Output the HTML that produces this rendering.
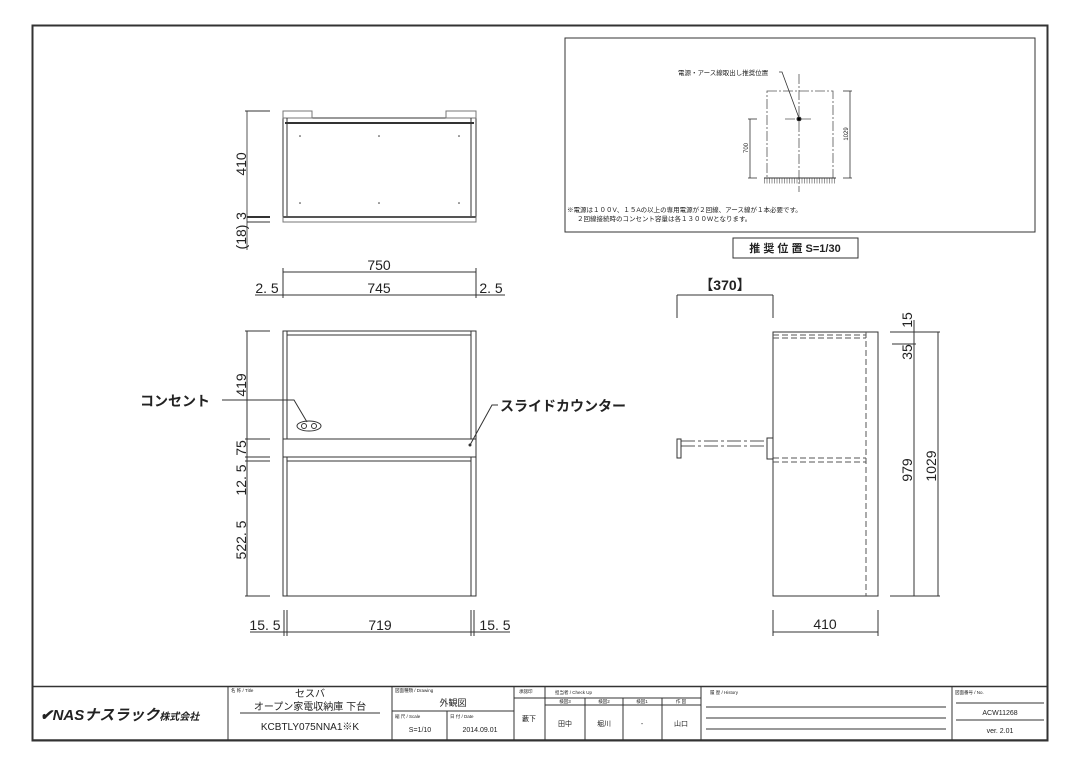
<!DOCTYPE html>
<html><head><meta charset="utf-8"><style>
html,body{margin:0;padding:0;background:#fff;}
svg{display:block;}
text{font-family:"Liberation Sans","Noto Sans CJK JP",sans-serif;fill:#222;}
.d{font-family:"Liberation Sans Narrow","Liberation Sans","Noto Sans CJK JP",sans-serif;font-size:14px;}
</style></head><body>
<svg width="1080" height="764" viewBox="0 0 1080 764" xmlns="http://www.w3.org/2000/svg">
<g fill="none" stroke="#333" stroke-width="1">
<rect x="32.5" y="25.5" width="1015" height="715" stroke-width="2"/>
<!-- top view -->
<rect x="283" y="118" width="193" height="99"/>
<rect x="283" y="111" width="29" height="7" stroke="#777"/>
<rect x="446" y="111" width="30" height="7" stroke="#777"/>
<line x1="285" y1="123" x2="474" y2="123" stroke-width="2"/>
<line x1="287" y1="118" x2="287" y2="217"/>
<line x1="471" y1="118" x2="471" y2="217"/>
<line x1="283" y1="217" x2="476" y2="217" stroke-width="2"/>
<rect x="283" y="217" width="193" height="5" stroke="#777"/>
<line x1="247" y1="111" x2="247" y2="250" stroke="#555"/>
<line x1="245" y1="111" x2="270" y2="111"/>
<line x1="247" y1="217" x2="270" y2="217" stroke-width="2"/>
<line x1="247" y1="222" x2="270" y2="222"/>
<!-- 750/745 -->
<line x1="283" y1="272" x2="476" y2="272"/>
<line x1="283" y1="268" x2="283" y2="298"/>
<line x1="476" y1="268" x2="476" y2="298"/>
<line x1="255" y1="295" x2="505" y2="295"/>
<!-- front view -->
<rect x="283" y="331" width="193" height="265"/>
<line x1="287" y1="331" x2="287" y2="596"/>
<line x1="471" y1="331" x2="471" y2="596"/>
<line x1="287" y1="335" x2="471" y2="335"/>
<rect x="283" y="439" width="193" height="18" fill="#fff"/>
<line x1="287" y1="461" x2="471" y2="461"/>
<ellipse cx="309" cy="426" rx="12" ry="5"/>
<circle cx="304" cy="426" r="2.5"/><circle cx="314" cy="426" r="2.5"/>
<polyline points="222,400 294,400 307,422"/>
<polyline points="470,445 492,405 498,405"/>
<circle cx="470" cy="445" r="1" fill="#333"/>
<line x1="247" y1="331" x2="247" y2="596"/>
<line x1="245" y1="331" x2="270" y2="331"/>
<line x1="245" y1="439" x2="270" y2="439"/>
<line x1="245" y1="457" x2="270" y2="457"/>
<line x1="245" y1="461" x2="270" y2="461"/>
<line x1="245" y1="596" x2="270" y2="596"/>
<line x1="250" y1="632" x2="510" y2="632"/>
<line x1="284" y1="610" x2="284" y2="636"/><line x1="287" y1="610" x2="287" y2="636"/>
<line x1="471" y1="610" x2="471" y2="636"/><line x1="474" y1="610" x2="474" y2="636"/>
<!-- side view -->
<rect x="773" y="332" width="105" height="264"/>
<g stroke-dasharray="6,3" stroke="#555">
<line x1="866" y1="332" x2="866" y2="596"/>
<line x1="773" y1="335" x2="866" y2="335"/>
<line x1="773" y1="338" x2="866" y2="338"/>
<line x1="773" y1="458" x2="866" y2="458"/>
<line x1="773" y1="462" x2="866" y2="462"/>
</g>
<g stroke-dasharray="14,3,3,3" stroke="#555">
<line x1="681" y1="441" x2="767" y2="441"/>
<line x1="681" y1="446" x2="767" y2="446"/>
</g>
<rect x="677" y="439" width="4" height="19"/>
<rect x="767" y="438" width="6" height="21"/>
<line x1="677" y1="295" x2="773" y2="295"/>
<line x1="677" y1="295" x2="677" y2="318"/>
<line x1="773" y1="295" x2="773" y2="318"/>
<line x1="914" y1="320" x2="914" y2="596"/>
<line x1="938" y1="332" x2="938" y2="596"/>
<line x1="890" y1="332" x2="940" y2="332"/>
<line x1="892" y1="344" x2="916" y2="344"/>
<line x1="890" y1="596" x2="940" y2="596"/>
<line x1="773" y1="632" x2="878" y2="632"/>
<line x1="773" y1="610" x2="773" y2="636"/>
<line x1="878" y1="610" x2="878" y2="636"/>
<!-- top right box -->
<rect x="565" y="38" width="470" height="194"/>
<g stroke-dasharray="10,2,2,2" stroke="#555" stroke-width="0.8">
<rect x="767" y="91" width="66" height="87"/>
<line x1="799" y1="74" x2="799" y2="192"/>
<line x1="785" y1="119" x2="813" y2="119"/>
</g>
<polyline points="779,72 782,72 799,118" stroke-width="0.8"/>
<circle cx="799" cy="119" r="2" fill="#000"/>
<line x1="764" y1="178" x2="836" y2="178"/>
<line x1="764" y1="181" x2="836" y2="181" stroke-width="5" stroke="#999" stroke-dasharray="1,1.5"/>
<line x1="750" y1="119" x2="750" y2="178" stroke-width="0.8"/>
<line x1="748" y1="119" x2="757" y2="119" stroke-width="0.8"/>
<line x1="748" y1="178" x2="757" y2="178" stroke-width="0.8"/>
<line x1="850" y1="91" x2="850" y2="178" stroke-width="0.8"/>
<line x1="843" y1="91" x2="852" y2="91" stroke-width="0.8"/>
<line x1="843" y1="178" x2="852" y2="178" stroke-width="0.8"/>
<rect x="733" y="238" width="125" height="20"/>
<!-- title block -->
<rect x="32.5" y="686.5" width="1015" height="53.5" stroke-width="1.5"/>
<line x1="228" y1="686" x2="228" y2="740"/>
<line x1="392" y1="686" x2="392" y2="740"/>
<line x1="514" y1="686" x2="514" y2="740"/>
<line x1="545" y1="686" x2="545" y2="740"/>
<line x1="701" y1="686" x2="701" y2="740"/>
<line x1="952" y1="686" x2="952" y2="740"/>
<line x1="240" y1="713" x2="380" y2="713"/>
<line x1="392" y1="711" x2="514" y2="711"/>
<line x1="447" y1="711" x2="447" y2="740"/>
<line x1="514" y1="698" x2="545" y2="698"/>
<line x1="545" y1="698" x2="701" y2="698"/>
<line x1="545" y1="705" x2="701" y2="705"/>
<line x1="585" y1="698" x2="585" y2="740"/>
<line x1="623" y1="698" x2="623" y2="740"/>
<line x1="662" y1="698" x2="662" y2="740"/>
<line x1="706" y1="707" x2="946" y2="707"/>
<line x1="706" y1="718" x2="946" y2="718"/>
<line x1="706" y1="729" x2="946" y2="729"/>
<line x1="956" y1="703" x2="1044" y2="703"/>
<line x1="956" y1="720" x2="1044" y2="720"/>
</g>
<g fill="#333">
<circle cx="300" cy="136" r="0.8"/><circle cx="379" cy="136" r="0.8"/><circle cx="459" cy="136" r="0.8"/>
<circle cx="300" cy="203" r="0.8"/><circle cx="379" cy="203" r="0.8"/><circle cx="459" cy="203" r="0.8"/>
</g>
<!-- dimension text -->
<g class="d">
<text transform="translate(246,164) rotate(-90)" text-anchor="middle">410</text>
<text transform="translate(246,216) rotate(-90)" text-anchor="middle">3</text>
<text transform="translate(246,237) rotate(-90)" text-anchor="middle">(18)</text>
<text x="379" y="270" text-anchor="middle">750</text>
<text x="379" y="293" text-anchor="middle">745</text>
<text x="267" y="293" text-anchor="middle">2. 5</text>
<text x="491" y="293" text-anchor="middle">2. 5</text>
<text transform="translate(246,385) rotate(-90)" text-anchor="middle">419</text>
<text transform="translate(246,448) rotate(-90)" text-anchor="middle">75</text>
<text transform="translate(246,480) rotate(-90)" text-anchor="middle">12. 5</text>
<text transform="translate(246,540) rotate(-90)" text-anchor="middle">522. 5</text>
<text x="265" y="630" text-anchor="middle">15. 5</text>
<text x="380" y="630" text-anchor="middle">719</text>
<text x="495" y="630" text-anchor="middle">15. 5</text>
<text x="725" y="290" text-anchor="middle" font-weight="bold">【370】</text>
<text transform="translate(912,320) rotate(-90)" text-anchor="middle">15</text>
<text transform="translate(912,352) rotate(-90)" text-anchor="middle">35</text>
<text transform="translate(912,470) rotate(-90)" text-anchor="middle">979</text>
<text transform="translate(936,466) rotate(-90)" text-anchor="middle">1029</text>
<text x="825" y="629" text-anchor="middle">410</text>
</g>
<text x="140" y="406" font-size="14" font-weight="bold">コンセント</text>
<text x="500" y="411" font-size="14" font-weight="bold">スライドカウンター</text>
<text x="678" y="75" font-size="6.5">電源・アース線取出し推奨位置</text>
<text transform="translate(748,148) rotate(-90)" font-size="6" text-anchor="middle">700</text>
<text transform="translate(848,134) rotate(-90)" font-size="6" text-anchor="middle">1029</text>
<text x="567" y="212" font-size="6.5">※電源は１００V、１５Aの以上の専用電源が２回線、アース線が１本必要です。</text>
<text x="577" y="221" font-size="6.5">２回線接続時のコンセント容量は各１３００Wとなります。</text>
<text x="795" y="252" font-size="11" text-anchor="middle" font-weight="bold">推 奨 位 置  S=1/30</text>
<!-- title block text -->
<text x="40" y="720" font-size="15" font-weight="bold" font-style="italic" fill="#111">✔NASナスラック<tspan font-size="10">株式会社</tspan></text>
<text x="231" y="692" font-size="4.5">名 称 / Title</text>
<text x="310" y="697" font-size="10" text-anchor="middle">セスバ</text>
<text x="310" y="710" font-size="10" text-anchor="middle">オープン家電収納庫 下台</text>
<text x="310" y="730" font-size="10" text-anchor="middle">KCBTLY075NNA1※K</text>
<text x="395" y="692" font-size="4.5">図面種類 / Drawing</text>
<text x="453" y="706" font-size="9" text-anchor="middle">外観図</text>
<text x="395" y="718" font-size="4.5">縮 尺 / Scale</text>
<text x="420" y="732" font-size="7" text-anchor="middle">S=1/10</text>
<text x="450" y="718" font-size="4.5">日 付 / Date</text>
<text x="480" y="732" font-size="7" text-anchor="middle">2014.09.01</text>
<text x="519" y="693" font-size="4.5">承認印</text>
<text x="529" y="721" font-size="7" text-anchor="middle">藪下</text>
<text x="555" y="694" font-size="4.5">担当者 / Check Up</text>
<text x="565" y="703" font-size="4.5" text-anchor="middle">検図3</text>
<text x="604" y="703" font-size="4.5" text-anchor="middle">検図2</text>
<text x="642" y="703" font-size="4.5" text-anchor="middle">検図1</text>
<text x="681" y="703" font-size="4.5" text-anchor="middle">作 図</text>
<text x="565" y="726" font-size="7" text-anchor="middle">田中</text>
<text x="604" y="726" font-size="7" text-anchor="middle">堀川</text>
<text x="642" y="726" font-size="7" text-anchor="middle">-</text>
<text x="681" y="726" font-size="7" text-anchor="middle">山口</text>
<text x="710" y="694" font-size="4.5">履 歴 / History</text>
<text x="955" y="694" font-size="4.5">図面番号 / No.</text>
<text x="1000" y="715" font-size="7" text-anchor="middle">ACW11268</text>
<text x="1000" y="733" font-size="7" text-anchor="middle">ver. 2.01</text>
</svg>
</body></html>
